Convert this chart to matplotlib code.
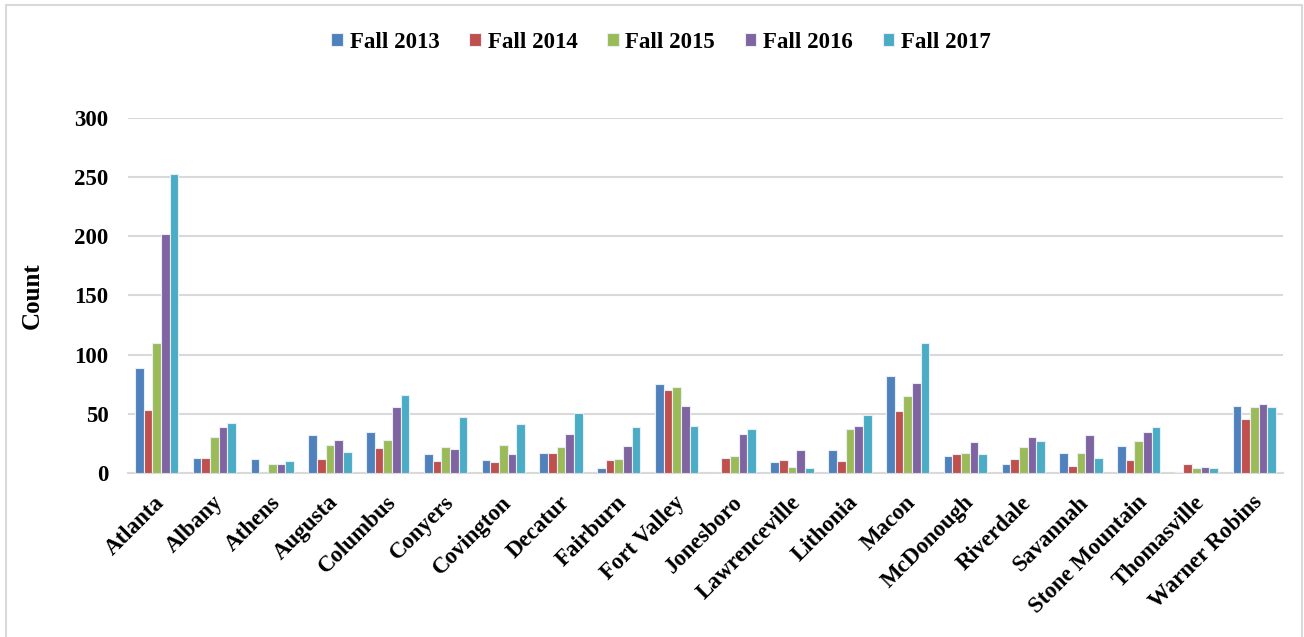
import matplotlib.pyplot as plt
import numpy as np
from matplotlib.patches import Rectangle
from matplotlib.transforms import ScaledTranslation

plt.rcParams['font.family'] = ['Liberation Serif', 'DejaVu Serif']
plt.rcParams['font.weight'] = 'bold'

cities = ["Atlanta", "Albany", "Athens", "Augusta", "Columbus", "Conyers", "Covington",
          "Decatur", "Fairburn", "Fort Valley", "Jonesboro", "Lawrenceville", "Lithonia",
          "Macon", "McDonough", "Riverdale", "Savannah", "Stone Mountain", "Thomasville",
          "Warner Robins"]
fall_2013 = [89, 13, 12, 32, 35, 16, 11, 17, 4, 75, 0, 9, 19, 82, 14, 8, 17, 23, 1, 57]
fall_2014 = [53, 13, 0, 12, 21, 10, 9, 17, 11, 70, 13, 11, 10, 52, 16, 12, 6, 11, 8, 46]
fall_2015 = [110, 30, 8, 24, 28, 22, 24, 22, 12, 73, 14, 5, 37, 65, 17, 22, 17, 27, 4, 56]
fall_2016 = [202, 39, 8, 28, 56, 20, 16, 33, 23, 57, 33, 19, 40, 76, 26, 30, 32, 35, 5, 58]
fall_2017 = [253, 42, 10, 18, 66, 47, 41, 51, 39, 40, 37, 4, 49, 110, 16, 27, 13, 39, 4, 56]

series = [fall_2013, fall_2014, fall_2015, fall_2016, fall_2017]
labels = ["Fall 2013", "Fall 2014", "Fall 2015", "Fall 2016", "Fall 2017"]
colors = ["#4F81BD", "#C0504D", "#9BBB59", "#8064A2", "#4BACC6"]

fig = plt.figure(figsize=(13.04, 6.37), dpi=100)
ax = fig.add_axes([0.098, 0.2575, 0.886, 0.5573])

x = np.arange(len(cities))
w = 0.15
for i, (vals, lab, c) in enumerate(zip(series, labels, colors)):
    ax.bar(x + (i - 2) * w, vals, w, color=c, label=lab, edgecolor='#E8EEF6',
           linewidth=0.8, zorder=3)

ax.set_xlim(-0.5, len(cities) - 0.5)
ax.set_ylim(0, 300)
ax.set_yticks(np.arange(0, 301, 50))
ax.grid(axis='y', color='#D9D9D9', linewidth=1.5, zorder=0)
for s in ['top', 'right', 'left']:
    ax.spines[s].set_visible(False)
ax.spines['bottom'].set_color('#D9D9D9')
ax.spines['bottom'].set_linewidth(1.5)
ax.tick_params(axis='both', length=0, labelsize=16.5)
ax.tick_params(axis='y', pad=14)
ax.set_xticks(x)
ax.set_xticklabels(cities, rotation=45, ha='right', va='center', rotation_mode='anchor')
ax.tick_params(axis='x', pad=19)
# nudge the slanted labels a little to the right
shift = ScaledTranslation(5 / 100, 0, fig.dpi_scale_trans)
for t in ax.get_xticklabels():
    t.set_transform(t.get_transform() + shift)
ax.set_ylabel("Count", fontsize=18, fontweight='bold', labelpad=22)

fig.legend(loc='center', bbox_to_anchor=(0.507, 0.934), ncol=5, frameon=False,
           fontsize=16.5, handlelength=0.5, handleheight=0.5, handletextpad=0.3,
           columnspacing=1.3)

fig.patches.append(Rectangle((6 / 1304, -0.05), 1296 / 1304, 1.05 - 5 / 637,
                             transform=fig.transFigure, fill=False,
                             edgecolor='#D9D9D9', linewidth=1.5))

fig.savefig("out.png", dpi=100)
